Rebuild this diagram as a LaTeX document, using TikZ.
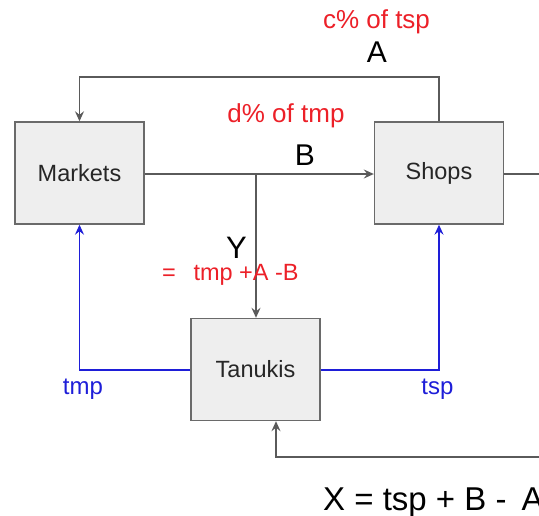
\documentclass[tikz,border=0pt]{standalone}
\usepackage{fontspec}
\setmainfont{Liberation Sans}
\usetikzlibrary{arrows.meta}
\definecolor{lg}{HTML}{5A5A5A}
\definecolor{bx}{HTML}{EEEEEE}
\definecolor{bd}{HTML}{6A6A6A}
\definecolor{bl}{HTML}{1E1ED8}
\definecolor{rd}{HTML}{EC2028}
\tikzset{
  box/.style={draw=bd, fill=bx, line width=1.4pt, minimum width=129pt, minimum height=102pt, inner sep=0pt, font=\fontsize{23.5}{26}\selectfont, text=black!85},
  tip/.style={-{Stealth[length=10pt,width=9pt,inset=3.5pt]}},
  gline/.style={draw=lg, line width=1.3pt, tip},
  bline/.style={draw=bl, line width=1.3pt, tip},
  lbl/.style={inner sep=0pt, anchor=base},
  red/.style={lbl, text=rd, font=\fontsize{26}{28}\selectfont},
  big/.style={lbl, text=black, font=\fontsize{30}{32}\selectfont},
  blu/.style={lbl, text=bl, font=\fontsize{24}{28}\selectfont},
}
\begin{document}
\begin{tikzpicture}[x=1pt,y=-1pt]
\useasboundingbox (0,0) rectangle (539,515);
\node[box] (M) at (79.5,173) {Markets};
\node[box] (S) at (439,173) {Shops};
\node[box] (T) at (255.5,369.5) {Tanukis};
% corners
\coordinate (a1) at (439,77);
\coordinate (a2) at (79.5,77);
\coordinate (br) at (256,174);
\coordinate (x1) at (548,174);
\coordinate (x2) at (548,457);
\coordinate (x3) at (276,457);
\coordinate (tl) at (79.5,370);
\coordinate (tr) at (439,370);
% A loop
\draw[gline] (S.north) -- (a1) -- (a2) -- (M.north);
% B
\draw[gline] (M.east |- br) -- (S.west |- br);
\draw[gline] (br) -- (br |- T.north);
% right loop
\draw[gline] (S.east |- x1) -- (x1) -- (x2) -- (x3) -- (x3 |- T.south);
% blue
\draw[bline] (T.west |- tl) -- (tl) -- (M.south);
\draw[bline] (T.east |- tr) -- (tr) -- (S.south);
% labels
\node[red] (lc) at (376.5,28) {c\% of tsp};
\node[big] (lA) at (377,62) {A};
\node[red] (ld) at (286,122) {d\% of tmp};
\node[big] (lB) at (305,165) {B};
\node[big, font=\fontsize{31}{32}\selectfont] (lY) at (236.5,258) {Y};
\node[red, anchor=base west, font=\fontsize{23.5}{28}\selectfont] (leq) at (162,280) {=\hspace{0.75em}tmp +A -B};
\node[blu] (ltmp) at (83,394) {tmp};
\node[blu] (ltsp) at (437.5,394) {tsp};
\node[big, anchor=base west, font=\fontsize{33}{36}\selectfont] (lX) at (323,510.5) {X = tsp + B -\hspace{15pt}A};
\end{tikzpicture}
\end{document}
